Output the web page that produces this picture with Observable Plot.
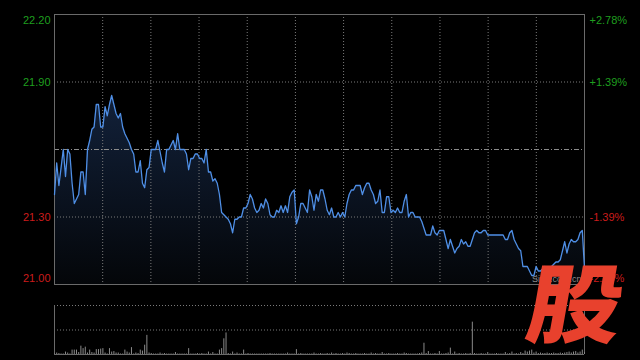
<!DOCTYPE html>
<html><head><meta charset="utf-8">
<script src="https://cdn.jsdelivr.net/npm/d3@7"></script>
<script src="https://cdn.jsdelivr.net/npm/@observablehq/plot@0.6"></script>
<style>
html,body{margin:0;padding:0;background:#000;width:640px;height:360px;overflow:hidden;}
#wrap{position:relative;width:640px;height:360px;}
#wrap svg{display:block;}
#mark{position:absolute;left:532px;top:274px;font:9px "Liberation Sans",Arial,sans-serif;color:#8a8a8a;}
#logo{position:absolute;left:522px;top:256px;font-family:"Noto Sans CJK SC",sans-serif;font-weight:900;font-size:86px;line-height:1;color:#e8412d;transform:skewX(-10deg) scaleX(1.1);transform-origin:bottom left;}
</style></head><body><div id="wrap"></div>
<script>
// minute index of the trading day (9:30-11:30, 13:00-15:00 → 242 points)
const minutes = d3.range(242);
const preClose = 21.60;
const prices = [
21.40,21.54,21.44,21.52,21.60,21.48,21.60,21.58,21.45,21.36,
21.38,21.40,21.50,21.50,21.40,21.60,21.64,21.69,21.70,21.80,
21.80,21.70,21.70,21.79,21.75,21.80,21.84,21.80,21.76,21.74,
21.76,21.70,21.67,21.65,21.63,21.60,21.58,21.50,21.50,21.55,
21.45,21.43,21.51,21.52,21.60,21.60,21.60,21.64,21.59,21.54,
21.50,21.60,21.60,21.62,21.64,21.60,21.67,21.60,21.60,21.60,
21.58,21.51,21.56,21.56,21.58,21.58,21.56,21.56,21.54,21.60,
21.50,21.50,21.46,21.47,21.45,21.40,21.32,21.31,21.30,21.29,
21.27,21.23,21.29,21.29,21.30,21.30,21.34,21.34,21.36,21.40,
21.38,21.34,21.32,21.33,21.36,21.34,21.38,21.36,21.31,21.30,
21.30,21.33,21.32,21.35,21.32,21.35,21.32,21.39,21.41,21.42,
21.27,21.30,21.36,21.36,21.34,21.32,21.42,21.39,21.33,21.40,
21.37,21.42,21.42,21.38,21.33,21.31,21.34,21.30,21.30,21.32,
21.30,21.32,21.30,21.36,21.40,21.42,21.42,21.44,21.44,21.44,
21.40,21.43,21.45,21.45,21.42,21.40,21.36,21.37,21.42,21.32,
21.32,21.39,21.39,21.32,21.33,21.32,21.34,21.32,21.32,21.37,
21.40,21.30,21.32,21.32,21.30,21.30,21.30,21.28,21.25,21.22,
21.22,21.22,21.26,21.23,21.22,21.24,21.24,21.24,21.20,21.16,
21.20,21.17,21.14,21.16,21.17,21.20,21.18,21.19,21.17,21.17,
21.20,21.23,21.24,21.23,21.23,21.24,21.24,21.22,21.22,21.22,
21.22,21.22,21.22,21.22,21.22,21.20,21.20,21.23,21.24,21.20,
21.18,21.16,21.15,21.08,21.08,21.08,21.06,21.04,21.04,21.08,
21.06,21.06,21.07,21.08,21.07,21.06,21.08,21.09,21.10,21.10,
21.11,21.15,21.19,21.14,21.18,21.20,21.19,21.19,21.20,21.23,
21.24,21.07];
const volumes = [
1,3,2,1,1,5,3,1,9,9,
9,4,17,12,15,3,9,4,3,10,
10,11,12,3,1,12,5,6,3,3,
1,1,9,5,3,14,1,3,2,9,
7,19,39,3,2,1,1,1,3,1,
2,1,1,1,1,4,1,1,1,1,
1,12,1,1,1,2,1,2,1,1,
5,1,4,1,1,9,12,32,44,2,
1,5,1,3,1,1,9,1,2,1,
1,1,1,1,1,1,1,1,2,1,
1,1,1,1,1,1,3,1,1,1,
10,1,2,1,1,1,1,1,3,1,
1,2,1,1,2,1,3,1,2,1,
1,2,1,3,2,1,1,2,1,1,
1,2,1,1,3,1,2,1,1,4,
1,1,2,1,1,1,2,1,1,3,
2,1,1,1,1,1,2,3,23,2,
6,1,1,2,1,6,1,1,2,3,
13,1,5,1,2,1,1,2,1,2,
66,2,1,1,2,1,1,4,1,1,
1,2,1,1,1,4,1,2,5,1,
2,1,4,2,7,5,7,9,3,5,
2,3,2,2,3,2,2,3,2,2,
3,2,3,4,5,3,5,6,3,5,
9,4];
const priceDomain = [21.00, 22.20];
const priceTicks = [22.20, 21.90, 21.30, 21.00];
const pctLabels = ["+2.78%", "+1.39%", "-1.39%", "-2.78%"];
const volDomain = [0, 100];
const volGrid = [100, 50];

const GREEN = "#1f9e1f", RED = "#cc1c1c", GRID = "#7a7a7a", FRAME = "#6a6a6a";
const rows = minutes.map((m, i) => ({m, p: prices[i], v: volumes[i]}));
const ticks = priceTicks.map((t, i) => ({t, pct: pctLabels[i], c: t > preClose ? GREEN : RED}));
const nX = minutes.length - 1;
const gridX = d3.range(1, 11).map(k => k * nX / 11);
const font = {fontFamily: '"Liberation Sans", Arial, sans-serif', fontSize: "11px"};

function labelMarks(filter, dy) {
  return [
    Plot.text(ticks, {filter, y: "t", text: d => d.t.toFixed(2), frameAnchor: "left", dx: -4, dy, textAnchor: "end", fill: "c"}),
    Plot.text(ticks, {filter, y: "t", text: "pct", frameAnchor: "right", dx: 5, dy, textAnchor: "start", fill: "c"})
  ];
}

const priceChart = Plot.plot({
  width: 640, height: 290, marginTop: 14, marginBottom: 6, marginLeft: 54, marginRight: 56,
  style: {background: "#000", display: "block", overflow: "visible", ...font},
  color: {type: "identity"},
  x: {domain: [0, nX], axis: null},
  y: {domain: priceDomain, axis: null},
  marks: [
    Plot.areaY(rows, {x: "m", y1: priceDomain[0], y2: "p", fill: "url(#pfill)"}),
    Plot.ruleX(gridX, {stroke: GRID, strokeDasharray: "1,2"}),
    Plot.ruleY(priceTicks.filter(t => t !== priceDomain[0] && t !== priceDomain[1]), {stroke: GRID, strokeDasharray: "1,2"}),
    Plot.ruleY([preClose], {stroke: "#8c8c8c", strokeDasharray: "5,2,1,2"}),
    Plot.frame({stroke: FRAME}),
    Plot.line(rows, {x: "m", y: "p", stroke: "#4f8fe6", strokeWidth: 1.3}),
    ...labelMarks((d, i) => i === 0, 6),
    ...labelMarks((d, i) => i > 0 && i < ticks.length - 1, 0),
    ...labelMarks((d, i) => i === ticks.length - 1, -6)
  ]
});
const defs = d3.select(priceChart).insert("defs", ":first-child");
const grad = defs.append("linearGradient").attr("id", "pfill").attr("x1", 0).attr("y1", 0).attr("x2", 0).attr("y2", 1);
grad.append("stop").attr("offset", "0%").attr("stop-color", "#12213a");
grad.append("stop").attr("offset", "100%").attr("stop-color", "#040609");

const volChart = Plot.plot({
  width: 640, height: 70, marginTop: 15, marginBottom: 6, marginLeft: 54, marginRight: 56,
  style: {background: "#000", display: "block", overflow: "visible", ...font},
  x: {domain: [0, nX], axis: null},
  y: {domain: volDomain, axis: null},
  marks: [
    Plot.ruleY(volGrid, {stroke: GRID, strokeDasharray: "1,2"}),
    Plot.ruleY([0], {stroke: FRAME}),
    Plot.ruleX([0, nX], {y1: volDomain[0], y2: volDomain[1], stroke: FRAME}),
    Plot.ruleX(rows, {x: "m", y1: 0, y2: "v", stroke: "#8a8a8a", strokeWidth: 1})
  ]
});

const wrap = document.getElementById("wrap");
wrap.appendChild(priceChart);
wrap.appendChild(volChart);
const mark = document.createElement("div");
mark.id = "mark"; mark.textContent = "Sina.com.cn";
wrap.appendChild(mark);
const logo = document.createElement("div");
logo.id = "logo"; logo.textContent = "股";
wrap.appendChild(logo);
</script>
</body></html>
